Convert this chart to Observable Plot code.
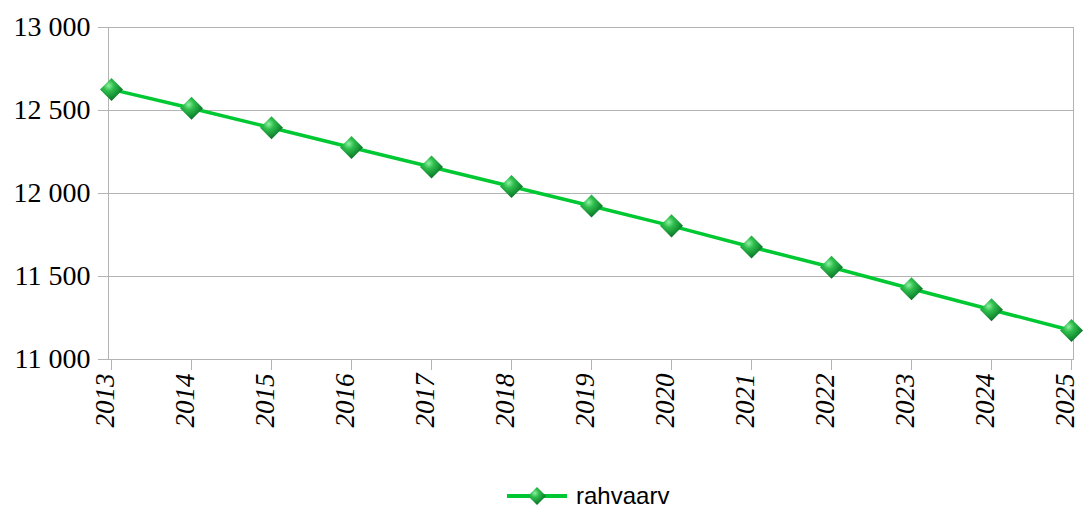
<!DOCTYPE html>
<html>
<head>
<meta charset="utf-8">
<script src="https://cdn.jsdelivr.net/npm/d3@7"></script>
<script src="https://cdn.jsdelivr.net/npm/@observablehq/plot@0.6"></script>
<style>
  html, body { margin: 0; padding: 0; background: #fff; width: 1084px; height: 514px; overflow: hidden; }
  #legend { position: relative; height: 36px; font-family: "Liberation Sans", Arial, sans-serif; font-size: 24px; color: #000; }
  #legend .item { position: absolute; left: 505px; top: 4px; display: flex; align-items: center; }
  #legend span { margin-left: 7px; line-height: 28px; }
  #chart svg text { font-family: "Liberation Serif", "Times New Roman", serif; }
</style>
</head>
<body>
<div id="chart"></div>
<div id="legend"><div class="item">
  <svg width="64" height="28" viewBox="0 0 64 28">
    <defs>
      <radialGradient id="lg" cx="0.38" cy="0.34" r="0.75">
        <stop offset="0" stop-color="#8ef0a2"/>
        <stop offset="0.3" stop-color="#2fbf4d"/>
        <stop offset="0.7" stop-color="#138a32"/>
        <stop offset="1" stop-color="#0a5e1f"/>
      </radialGradient>
    </defs>
    <line x1="2" y1="14" x2="62" y2="14" stroke="#00c832" stroke-width="4"/>
    <path d="M32,5 L41,14 L32,23 L23,14 Z" fill="url(#lg)"/>
  </svg>
  <span>rahvaarv</span>
</div></div>
<script>
const years = ["2013","2014","2015","2016","2017","2018","2019","2020","2021","2022","2023","2024","2025"];
const rahvaarv = [12627, 12514, 12396, 12277, 12160, 12042, 11925, 11805, 11678, 11556, 11426, 11300, 11175];
const yTicks = [11000, 11500, 12000, 12500, 13000];
const seriesName = "rahvaarv";

const data = years.map((y, i) => ({year: y, value: rahvaarv[i]}));

const diamond = {
  draw(ctx, size) {
    const r = Math.sqrt(size / 2);
    ctx.moveTo(0, -r); ctx.lineTo(r, 0); ctx.lineTo(0, r); ctx.lineTo(-r, 0); ctx.closePath();
  }
};

const fmt = d => d3.format(",")(d).replace(/,/g, " ");
const grid = "#b3b3b3";
const serif = "'Liberation Serif', 'Times New Roman', serif";

const chart = Plot.plot({
  width: 1084,
  height: 478,
  marginTop: 27,
  marginLeft: 108,
  marginRight: 11,
  marginBottom: 119,
  style: {background: "#fff", fontFamily: serif},
  x: {type: "point", domain: years, padding: 0},
  y: {domain: [11000, 13000]},
  marks: [
    Plot.gridY(yTicks, {stroke: grid, strokeOpacity: 1}),
    Plot.frame({stroke: grid}),
    Plot.axisY(yTicks, {tickSize: 10, tickPadding: 8, stroke: grid, tickFormat: fmt,
      fontSize: 28, fontFamily: serif, fill: "#000", label: null}),
    Plot.axisX(years, {tickSize: 11, stroke: grid, tickFormat: () => "", label: null}),
    Plot.axisX(years, {tickSize: 0, tickPadding: 14, tickRotate: -90, dx: -6,
      fontSize: 27, fontFamily: serif, fontStyle: "italic", fill: "#000", label: null}),
    Plot.line(data, {x: "year", y: "value", stroke: "#00c832", strokeWidth: 3.5}),
    Plot.dot(data, {x: "year", y: "value", symbol: diamond, r: 9.2, fill: "url(#pg)", stroke: "none"})
  ]
});

const defs = document.createElementNS("http://www.w3.org/2000/svg", "defs");
defs.innerHTML = `<radialGradient id="pg" cx="0.38" cy="0.34" r="0.75">
  <stop offset="0" stop-color="#8ef0a2"/>
  <stop offset="0.3" stop-color="#2fbf4d"/>
  <stop offset="0.7" stop-color="#138a32"/>
  <stop offset="1" stop-color="#0a5e1f"/>
</radialGradient>`;
chart.insertBefore(defs, chart.firstChild);
document.getElementById("chart").appendChild(chart);
</script>
</body>
</html>
